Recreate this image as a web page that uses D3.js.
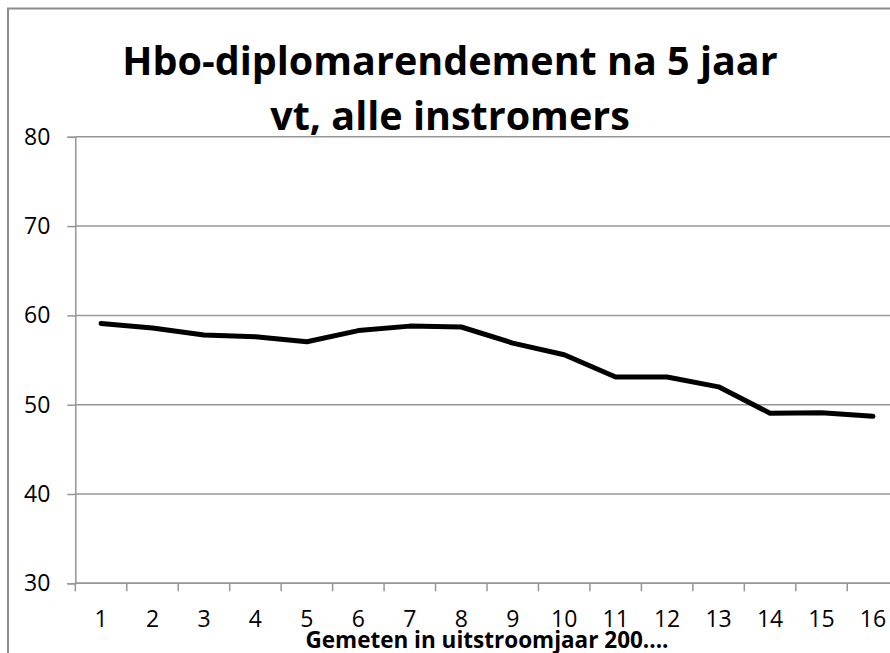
<!DOCTYPE html>
<html>
<head>
<meta charset="utf-8">
<script src="https://cdn.jsdelivr.net/npm/d3@7"></script>
<style>
  body { margin: 0; background: #fff; }
  svg { display: block; font-family: "Open Sans", Lato, sans-serif; }
</style>
</head>
<body>
<svg width="890" height="653"></svg>
<script>
  const categories = ["1","2","3","4","5","6","7","8","9","10","11","12","13","14","15","16"];
  const values = [59.1, 58.6, 57.8, 57.6, 57.05, 58.3, 58.8, 58.7, 56.9, 55.6, 53.1, 53.1, 52.0, 49.05, 49.1, 48.7];
  const yTicks = [30, 40, 50, 60, 70, 80];
  const titleLines = ["Hbo-diplomarendement na 5 jaar", "vt, alle instromers"];
  const xTitle = "Gemeten in uitstroomjaar 200....";

  const svg = d3.select("svg");
  const plotLeft = 75.3, plotRight = 898.7, plotTop = 136.8, plotBottom = 583.3;
  const gridColor = "#969696";
  const font = "'Open Sans', Lato, sans-serif";

  // outer chart border (runs off the right and bottom edges)
  svg.append("rect")
    .attr("x", 8).attr("y", 8.5)
    .attr("width", 920).attr("height", 700)
    .attr("fill", "none")
    .attr("stroke", "#8c8c8c")
    .attr("stroke-width", 2);

  const x = d3.scaleBand().domain(categories).range([plotLeft, plotRight]);
  const y = d3.scaleLinear().domain([30, 80]).range([plotBottom, plotTop]);

  // gridlines
  svg.append("g")
    .selectAll("line")
    .data(yTicks)
    .join("line")
    .attr("x1", plotLeft).attr("x2", plotRight)
    .attr("y1", d => y(d)).attr("y2", d => y(d))
    .attr("stroke", gridColor)
    .attr("stroke-width", 1.5);

  // y axis
  const yAxis = svg.append("g")
    .attr("transform", `translate(${plotLeft},0)`)
    .call(d3.axisLeft(y).tickValues(yTicks).tickSize(8).tickPadding(17));
  yAxis.select(".domain").attr("stroke", gridColor).attr("stroke-width", 1.5);
  yAxis.selectAll(".tick line").attr("stroke", gridColor).attr("stroke-width", 1.5);
  yAxis.selectAll(".tick text")
    .attr("font-size", 23)
    .attr("font-family", font)
    .attr("fill", "#000");

  // x axis: labels at band centres, ticks at band edges
  const xAxis = svg.append("g")
    .attr("transform", `translate(0,${plotBottom})`)
    .call(d3.axisBottom(x).tickSize(0).tickPadding(27));
  xAxis.select(".domain").remove();
  xAxis.selectAll(".tick text")
    .attr("font-size", 23)
    .attr("font-family", font)
    .attr("fill", "#000");

  svg.append("line")
    .attr("x1", plotLeft).attr("x2", plotRight)
    .attr("y1", plotBottom).attr("y2", plotBottom)
    .attr("stroke", gridColor).attr("stroke-width", 1.5);

  svg.append("g")
    .selectAll("line")
    .data(categories)
    .join("line")
    .attr("x1", d => x(d)).attr("x2", d => x(d))
    .attr("y1", plotBottom).attr("y2", plotBottom + 8)
    .attr("stroke", gridColor)
    .attr("stroke-width", 1.5);

  // series line
  const line = d3.line()
    .x((d, i) => x(categories[i]) + x.bandwidth() / 2)
    .y(d => y(d));

  svg.append("path")
    .datum(values)
    .attr("d", line)
    .attr("fill", "none")
    .attr("stroke", "#000")
    .attr("stroke-width", 5)
    .attr("stroke-linejoin", "round")
    .attr("stroke-linecap", "round");

  // title
  svg.append("g")
    .selectAll("text")
    .data(titleLines)
    .join("text")
    .attr("x", 450)
    .attr("y", (d, i) => 75 + i * 55)
    .attr("text-anchor", "middle")
    .attr("font-size", 39.5)
    .attr("font-weight", "bold")
    .attr("font-family", font)
    .attr("fill", "#000")
    .text(d => d);

  // x axis title, centred under the plot area
  svg.append("text")
    .attr("x", (plotLeft + plotRight) / 2)
    .attr("y", 648)
    .attr("text-anchor", "middle")
    .attr("font-size", 22.5)
    .attr("font-weight", "bold")
    .attr("font-family", font)
    .attr("fill", "#000")
    .text(xTitle);
</script>
</body>
</html>
